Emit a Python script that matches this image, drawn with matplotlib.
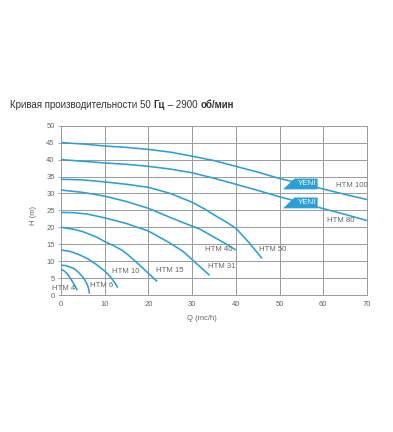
import matplotlib
matplotlib.use("Agg")
import matplotlib.pyplot as plt
from matplotlib.patches import Polygon

plt.rcParams['font.family'] = ['Liberation Sans', 'DejaVu Sans']

# ---- data ----
x_ticks = [0, 10, 20, 30, 40, 50, 60, 70]
y_ticks = [0, 5, 10, 15, 20, 25, 30, 35, 40, 45, 50]

htm100_q = [0, 5, 10, 15, 20, 25, 30, 35, 40, 45, 50, 55, 60, 65, 70]
htm100_h = [45, 44.6, 44, 43.6, 43, 42.2, 41, 39.7, 38, 36.3, 34.4, 32.9, 31.3, 29.7, 28.2]

htm80_q = [0, 5, 10, 15, 20, 25, 30, 35, 40, 45, 50, 55, 60, 65, 70]
htm80_h = [40, 39.5, 39, 38.6, 38, 37.2, 36.1, 34.5, 32.7, 30.9, 29, 27.3, 25.5, 23.8, 22]

htm50_q = [0, 5, 10, 15, 20, 25, 30, 33, 36, 38, 40, 43, 46]
htm50_h = [34.2, 34, 33.4, 32.7, 31.8, 30, 27.4, 25.3, 22.9, 21.4, 19.7, 15.5, 10.8]

htm40_q = [0, 5, 10, 15, 20, 25, 28.3, 31.7, 35, 38, 40]
htm40_h = [31, 30.3, 29.2, 27.6, 25.6, 22.9, 21.2, 19.5, 17.1, 14.9, 13.3]

htm31_q = [0, 3, 6, 10, 15, 20, 25, 28, 31, 34]
htm31_h = [24.4, 24.3, 23.9, 22.8, 21.1, 18.9, 15.3, 12.8, 9.3, 5.8]

htm15_q = [0, 3, 5, 8, 10, 12, 14, 15.4, 18, 20, 22]
htm15_h = [20, 19.4, 18.7, 17.2, 15.8, 14.6, 13.2, 11.8, 8.8, 6.4, 4]

htm10_q = [0, 2, 4, 6, 8, 10, 11, 12, 13]
htm10_h = [13.3, 12.9, 12, 10.8, 9.1, 7.1, 5.8, 4.2, 2.2]

htm6_q = [0, 1, 2, 3, 4, 5, 5.6, 6.1, 6.4, 6.5]
htm6_h = [8.8, 8.7, 8.3, 7.8, 6.7, 5.3, 4.1, 2.8, 1.5, 0.4]

htm4_q = [0, 0.5, 1, 1.5, 2, 2.5, 3, 3.4, 3.7]
htm4_h = [7.6, 7.3, 6.8, 6.1, 5.2, 4.2, 3.2, 2.2, 1.4]

curves = [
    (htm100_q, htm100_h), (htm80_q, htm80_h), (htm50_q, htm50_h),
    (htm40_q, htm40_h), (htm31_q, htm31_h), (htm15_q, htm15_h),
    (htm10_q, htm10_h), (htm6_q, htm6_h), (htm4_q, htm4_h),
]

labels = ["HTM 100", "HTM 80", "HTM 50", "HTM 40", "HTM 31",
          "HTM 15", "HTM 10", "HTM 6", "HTM 4"]
label_x = [62.9, 60.9, 45.4, 32.9, 33.6, 21.7, 11.6, 6.6, -2.1]
label_y = [32.2, 21.9, 13.5, 13.5, 8.4, 7.2, 6.9, 2.8, 2.0]

# "YENİ" badges: (bottom y, top y)
badge_y = [(31.2, 34.4), (25.6, 28.8)]
badge_x = (50.8, 53.4, 58.7)  # bottom-left, top-left, right

BLUE = "#2a9fd8"
GRID = "#9a9a9a"
TXT = "#666666"

fig = plt.figure(figsize=(3.93, 4.32), dpi=100)
ax = fig.add_axes([0.1552, 0.3171, 0.7786, 0.3919])

for q, h in curves:
    ax.plot(q, h, color=BLUE, lw=1.15, solid_capstyle='butt',
            solid_joinstyle='round', zorder=3)

for lab, lx, ly in zip(labels, label_x, label_y):
    ax.text(lx, ly, lab, fontsize=5.6, color=TXT, ha='left', va='center',
            clip_on=False, zorder=4)

for yb, yt in badge_y:
    poly = Polygon([(badge_x[0], yb), (badge_x[1], yt), (badge_x[2], yt),
                    (badge_x[2], yb)], closed=True, facecolor=BLUE,
                   edgecolor='none', zorder=5)
    ax.add_patch(poly)
    ax.text((badge_x[1] + badge_x[2]) / 2 + 0.2, (yb + yt) / 2, "YENİ",
            fontsize=5.8, color='white', ha='center', va='center', zorder=6)

ax.set_xlim(0, 70)
ax.set_ylim(0, 50)
ax.set_xticks(x_ticks)
ax.set_yticks(y_ticks)
ax.grid(True, color=GRID, lw=0.7, zorder=0)
ax.set_axisbelow(True)
for s in ax.spines.values():
    s.set_color(GRID)
    s.set_linewidth(0.7)
ax.tick_params(axis='both', labelsize=5.5, labelcolor=TXT, color=GRID,
               length=2.5, width=0.6, pad=2)
ax.tick_params(axis='x', length=0, pad=4)

ax.set_xlabel("Q (mc/h)", fontsize=5.5, color=TXT)
ax.xaxis.set_label_coords(0.459, -0.12)
ax.set_ylabel("H (m)", fontsize=5.5, color=TXT)
ax.yaxis.set_label_coords(-0.078, 0.47)

# title with mixed weights
parts = [("Кривая производительности ", 'normal'), ("50 ", 'normal'),
         ("Гц", 'bold'), (" – 2900 ", 'normal'), ("об/мин", 'bold')]
FS = 7.0
prev = fig.text(10 / 393, 1 - 108 / 432, parts[0][0], fontsize=FS,
                color="#333333", fontweight=parts[0][1], ha='left',
                va='baseline')
for s, w in parts[1:]:
    prev = ax.annotate(s, xy=(1, 0), xycoords=prev, xytext=(0, 0),
                       textcoords='offset points', fontsize=FS,
                       color="#333333", fontweight=w, ha='left', va='bottom',
                       annotation_clip=False)

fig.savefig("out.png", dpi=100, facecolor='white')
